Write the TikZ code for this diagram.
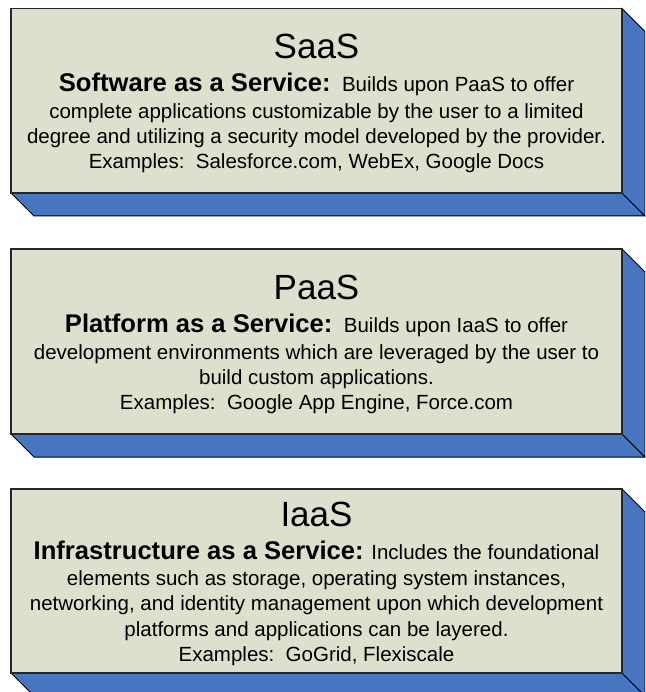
\documentclass[tikz,border=0pt]{standalone}
\usepackage{fontspec}
\setmainfont{Liberation Sans}
\definecolor{facecol}{RGB}{221,224,204}
\definecolor{sidecol}{RGB}{71,117,192}
\tikzset{
  frontface/.style={fill=facecol, draw=black!85, line width=1.1pt},
  depthface/.style={fill=sidecol, draw=black, line width=1pt, line join=miter},
  titletext/.style={anchor=base, font=\fontsize{35}{40}\selectfont, inner sep=0pt},
  bodytext/.style={anchor=base, font=\fontsize{20.5}{24}\selectfont, inner sep=0pt},
}
\newcommand\boldlead[1]{{\fontsize{25.6}{28}\selectfont\bfseries #1}}
\begin{document}
\begin{tikzpicture}[x=1pt,y=-1pt]
\useasboundingbox (0,0) rectangle (645,692);
\clip (0,0) rectangle (645,692);
% ---------- SaaS ----------
\draw[depthface] (11,193) -- (622,193) -- (645,216) -- (34,216) -- cycle;
\draw[depthface] (622,8.5) -- (645,31.5) -- (645,216) -- (622,193) -- cycle;
\draw[frontface] (11,8.5) rectangle (622,193);
\node[titletext] (saas) at (316.5,59) {SaaS};
\node[bodytext] (saasA) at (316.5,92) {\boldlead{Software as a Service:}\ \ Builds upon PaaS to offer};
\node[bodytext] (saasB) at (316.5,118.5) {complete applications customizable by the user to a limited};
\node[bodytext] (saasC) at (316.5,144) {degree and utilizing a security model developed by the provider.};
\node[bodytext] (saasD) at (316.5,168.5) {Examples:\ \ Salesforce.com, WebEx, Google Docs};
% ---------- PaaS ----------
\draw[depthface] (11,434) -- (622,434) -- (645,457) -- (34,457) -- cycle;
\draw[depthface] (622,249) -- (645,272) -- (645,457) -- (622,434) -- cycle;
\draw[frontface] (11,249) rectangle (622,434);
\node[titletext] (paas) at (316.5,299.5) {PaaS};
\node[bodytext] (paasA) at (316.5,332.5) {\boldlead{Platform as a Service:}\ \ Builds upon IaaS to offer};
\node[bodytext] (paasB) at (316.5,359) {development environments which are leveraged by the user to};
\node[bodytext] (paasC) at (316.5,384.5) {build custom applications.};
\node[bodytext] (paasD) at (316.5,409) {Examples:\ \ Google App Engine, Force.com};
% ---------- IaaS ----------
\draw[depthface] (11,673) -- (622,673) -- (645,696) -- (34,696) -- cycle;
\draw[depthface] (622,489) -- (645,512) -- (645,696) -- (622,673) -- cycle;
\draw[frontface] (11,489) rectangle (622,673);
\node[titletext] (iaas) at (316.5,526.75) {IaaS};
\node[bodytext] (iaasA) at (316.5,559.75) {\boldlead{Infrastructure as a Service:} Includes the foundational};
\node[bodytext] (iaasB) at (316.5,585.25) {elements such as storage, operating system instances,};
\node[bodytext] (iaasC) at (316.5,610.75) {networking, and identity management upon which development};
\node[bodytext] (iaasD) at (316.5,636.25) {platforms and applications can be layered.};
\node[bodytext] (iaasE) at (316.5,661.75) {Examples:\ \ GoGrid, Flexiscale};
\end{tikzpicture}
\end{document}
